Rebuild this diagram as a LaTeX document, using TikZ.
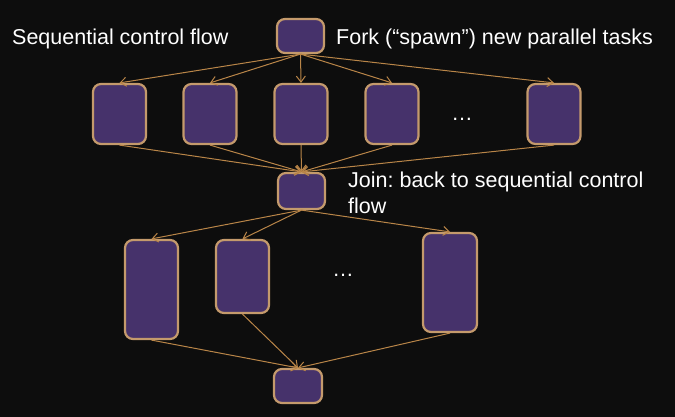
\documentclass[tikz,border=0pt]{standalone}
\usepackage{fontspec}
\setmainfont{Liberation Sans}
\usetikzlibrary{arrows.meta}
\frenchspacing
\definecolor{bg}{HTML}{0D0D0D}
\definecolor{boxfill}{HTML}{46326B}
\definecolor{boxline}{HTML}{C49A6C}
\definecolor{arrowc}{HTML}{B98548}
\tikzset{
  task/.style={draw=boxline, fill=boxfill, line width=2.2pt, rounded corners=8pt, inner sep=0pt},
  flow/.style={draw=arrowc, line width=1pt, -{Straight Barb[length=6pt,width=9pt,line width=1pt]}},
  lbl/.style={text=white, inner sep=0pt, font=\fontsize{21.5pt}{25pt}\selectfont},
}
\begin{document}
\begin{tikzpicture}[x=1pt,y=-1pt]
\fill[bg] (0,0) rectangle (675,417);
\useasboundingbox (0,0) rectangle (675,417);
% nodes
\node[task, minimum width=47pt, minimum height=34pt] (top) at (300.5,36) {};
\node[task, minimum width=53pt, minimum height=60pt] (a1) at (119.5,114) {};
\node[task, minimum width=53pt, minimum height=60pt] (a2) at (210,114) {};
\node[task, minimum width=53pt, minimum height=60pt] (a3) at (301,114) {};
\node[task, minimum width=53pt, minimum height=60pt] (a4) at (392,114) {};
\node[task, minimum width=53pt, minimum height=60pt] (a5) at (554,114) {};
\node[task, minimum width=47pt, minimum height=36pt] (join) at (301.5,191) {};
\node[task, minimum width=53pt, minimum height=99pt] (b1) at (151.5,289.5) {};
\node[task, minimum width=53pt, minimum height=73pt] (b2) at (242.5,276.5) {};
\node[task, minimum width=54pt, minimum height=99pt] (b3) at (450,282.5) {};
\node[task, minimum width=48pt, minimum height=34pt] (bot) at (298,386) {};
% edges
\foreach \n in {a1,a2,a3,a4,a5} {
  \draw[flow] (top.south) -- (\n.north);
  \draw[flow] (\n.south) -- (join.north);
}
\foreach \n in {b1,b2,b3} {
  \draw[flow] (join.south) -- (\n.north);
  \draw[flow] (\n.south) -- (bot.north);
}
% labels
\node[lbl, anchor=base] (dots1) at (462,121) {…};
\node[lbl, anchor=base] (dots2) at (343,276) {…};
\node[lbl, anchor=base west] (t1) at (12,45) {Sequential control flow};
\node[lbl, anchor=base west] (t2) at (336,45) {Fork (“spawn”) new parallel tasks};
\node[lbl, anchor=base west, align=left] (t3) at (348,213) {Join: back to sequential control\\flow};
\end{tikzpicture}
\end{document}
